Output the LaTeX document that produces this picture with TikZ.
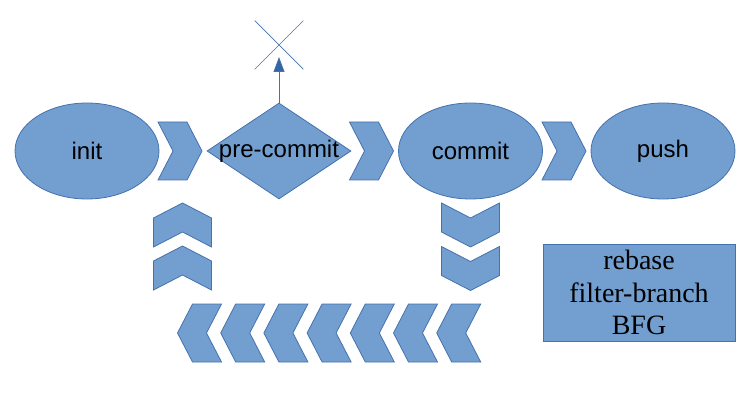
\documentclass[tikz,border=0pt]{standalone}
\usepackage{fontspec}
\setmainfont{Liberation Serif}
\newfontfamily\arialf{Liberation Sans}
\usetikzlibrary{shapes.geometric,shapes.misc,arrows.meta}
\definecolor{bfill}{RGB}{114,159,207}
\definecolor{bline}{RGB}{68,114,176}
\definecolor{bdark}{RGB}{52,101,164}
\tikzset{
  chevstyle/.style={fill=bfill,draw=bline,line width=0.8pt,line join=miter},
  chev/.pic={\path[chevstyle] (-22,-29) -- (7,-29) -- (22,0) -- (7,29) -- (-22,29) -- (-7,0) -- cycle;},
  blob/.style={ellipse,fill=bfill,draw=bline,line width=0.8pt,minimum width=144pt,minimum height=96pt,font=\arialf\fontsize{24}{28}\selectfont},
  gate/.style={diamond,fill=bfill,draw=bline,line width=0.8pt,minimum width=144pt,minimum height=96pt,inner sep=0pt},
  toolbox/.style={rectangle,fill=bfill,draw=bline,line width=0.8pt,minimum width=192pt,minimum height=97pt,align=center,font=\fontsize{28}{32.5}\selectfont},
  crossmark/.style={cross out,draw=bline,line width=0.7pt,minimum width=48pt,minimum height=48pt,inner sep=0pt},
}
\begin{document}
\begin{tikzpicture}[x=1pt,y=-1pt]
\useasboundingbox (0,0) rectangle (749,403);
% main flow
\node[blob] (init) at (87,151) {init};
\node[gate,label={[font=\arialf\fontsize{24}{28}\selectfont]center:pre-commit}] (pc) at (279,151) {};
\node[blob] (commit) at (470.5,151) {commit};
\node[blob] (push) at (663,151) {push};
% right-pointing chevrons
\pic at (180,151) {chev};
\pic at (371.5,151) {chev};
\pic at (564,151) {chev};
% up chevrons
\pic[rotate=90] at (182.5,225) {chev};
\pic[rotate=90] at (182.5,268) {chev};
% down chevrons
\pic[rotate=-90] at (470.5,225) {chev};
\pic[rotate=-90] at (470.5,268.5) {chev};
% left row
\foreach \k in {0,...,6}{
  \pic[rotate=180] at ({199.5+43.2*\k},333) {chev};
}
% rejected path
\node[crossmark] (x) at (279,45) {};
\draw[draw=bline,line width=0.8pt,-{Triangle[width=11pt,length=15pt,fill=bdark]},shorten >=12pt] (pc.north) -- (x.center);
% rewriting tools
\node[toolbox] (tools) at (639,292.5) {rebase\\filter-branch\\BFG};
\end{tikzpicture}
\end{document}
